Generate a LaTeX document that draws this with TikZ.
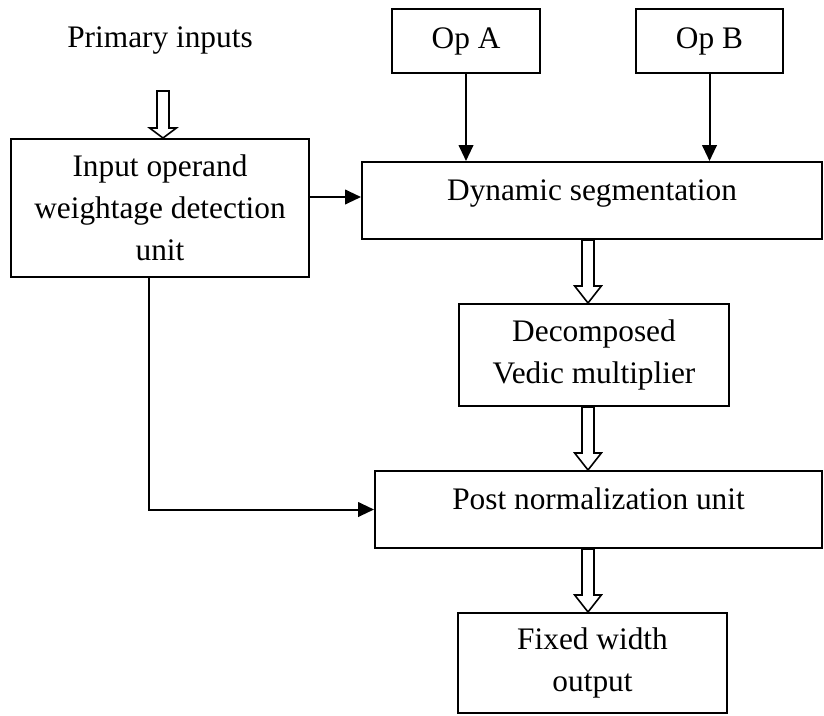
\documentclass[tikz,border=0pt]{standalone}
\usepackage{fontspec}
\setmainfont{Liberation Serif}
\usetikzlibrary{arrows.meta,calc}
\newcommand{\hollowdown}[3][12.75pt]{%
  \draw[line width=1.2pt,fill=white] let \p1=(#2), \p2=(#3) in
    (\x1-4.5pt,\y1) -- (\x1-4.5pt,\y2+#1) -- (\x1-10pt,\y2+#1) -- (\x1,\y2)
    -- (\x1+10pt,\y2+#1) -- (\x1+4.5pt,\y2+#1) -- (\x1+4.5pt,\y1) -- cycle;}
\tikzset{
  lbl/.style={font=\fontsize{23.5}{31.5}\selectfont},
  blk/.style={lbl,draw,line width=1.5pt,align=center,inner sep=0pt},
  onerow/.style={text height=16pt,text depth=16pt},
  conn/.style={line width=1.5pt,-{Triangle[length=12pt,width=11pt]}}
}
\begin{document}
\begin{tikzpicture}[x=0.75pt,y=-0.75pt]
    \useasboundingbox (0,0) rectangle (824,715);
    \node[lbl] (prim) at (160,41) {Primary inputs};
    \node[blk,minimum width=111pt,minimum height=48pt] (opA) at (466,41) {Op A};
    \node[blk,minimum width=110.25pt,minimum height=48pt] (opB) at (709.5,41) {Op B};
    \node[blk,minimum width=223.5pt,minimum height=103.5pt] (inunit) at (160,208) {Input operand\\weightage detection\\unit};
    \node[blk,onerow,minimum width=345pt,minimum height=57.75pt] (dynseg) at (592,200.5) {Dynamic segmentation};
    \node[blk,minimum width=202.5pt,minimum height=76.5pt] (vedic) at (594,355) {Decomposed\\Vedic multiplier};
    \node[blk,onerow,minimum width=335.25pt,minimum height=57.75pt] (postnorm) at (598.5,509.5) {Post normalization unit};
    \node[blk,minimum width=201.75pt,minimum height=75pt] (fixout) at (592.5,663) {Fixed width\\output};
    \coordinate (pin) at (163,91);
    \coordinate (ax) at (588,0);
    \draw[conn] (opA) -- (opA |- dynseg.north);
    \draw[conn] (opB) -- (opB |- dynseg.north);
    \draw[conn] ([yshift=8.25pt]inunit.east) -- ([yshift=8.25pt]inunit.east -| dynseg.west);
    \draw[conn] ([xshift=-8.25pt]inunit.south) |- (postnorm.west);
    \hollowdown[7.5pt]{pin}{pin |- inunit.north}
    \hollowdown{ax |- dynseg.south}{ax |- vedic.north}
    \hollowdown{ax |- vedic.south}{ax |- postnorm.north}
    \hollowdown{ax |- postnorm.south}{ax |- fixout.north}
\end{tikzpicture}
\end{document}
